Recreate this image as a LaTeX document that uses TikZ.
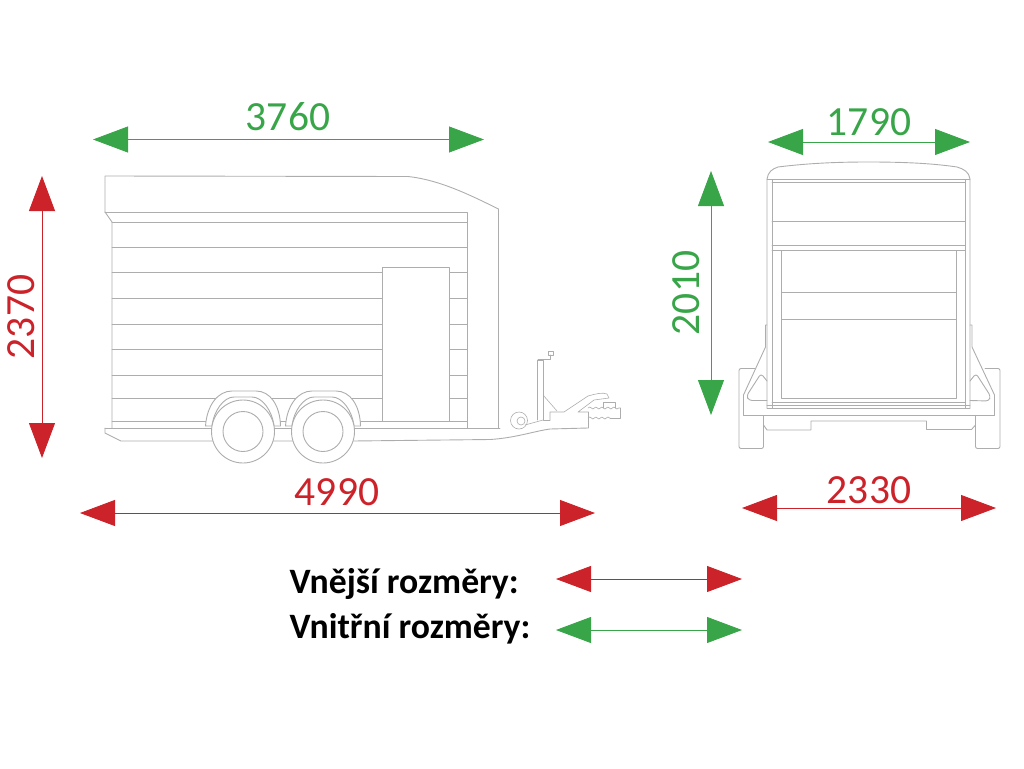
\documentclass[tikz,border=0pt]{standalone}
\usepackage{fontspec}
\setmainfont{Carlito}
\usetikzlibrary{arrows.meta, decorations.pathmorphing}
\definecolor{dimred}{HTML}{CC2229}
\definecolor{dimgreen}{HTML}{38A548}
\definecolor{bodygray}{HTML}{ADADAD}

\begin{document}
\begin{tikzpicture}[x=1pt, y=-1pt, line cap=round, line join=round,
    >={Triangle[length=35pt, width=26pt]},
    outerdim/.style={<->, dimred, line width=0.8pt},
    innerdim/.style={<->, dimgreen, line width=0.8pt},
    bodyline/.style={bodygray, line width=0.9pt},
    redlabel/.style={dimred, font=\fontsize{41.5}{48}\selectfont},
    greenlabel/.style={dimgreen, font=\fontsize{41.5}{48}\selectfont},
    legendlabel/.style={anchor=west, font=\fontsize{35.7}{42}\selectfont\bfseries}]

  \useasboundingbox (0,0) rectangle (1024,768);

  % side view
  \draw[bodyline] (105,212) -- (105,176) -- (408,176.5)
    .. controls (440,180) and (470,195) .. (498.5,209) -- (498.5,428);
  \draw[bodyline] (105,212) -- (112,222) -- (112,428);
  \draw[bodyline] (105,212) -- (467,212) -- (467,428);
  \foreach \y in {222,247.5,398,421}
    \draw[bodyline] (112,\y) -- (467,\y);
  \foreach \y in {272.5,298,324,349.5,375}
    \draw[bodyline] (112,\y) -- (382,\y) (449,\y) -- (467,\y);
  \draw[bodyline, fill=white] (382.5,267) rectangle (449,421);

  % chassis
  \draw[bodyline] (105,428) -- (500,428);
  \draw[bodyline] (105,428) -- (105,433) -- (121,441) -- (353,441) -- (490,439.5)
    .. controls (515,438) and (535,431) .. (550,429) -- (588,428);

  % axles
  \foreach \x in {0,80} {
    \draw[bodyline, fill=white] (205.5+\x,426) .. controls (207+\x,405) and (218+\x,391) .. (232+\x,391)
      -- (256+\x,391) .. controls (270+\x,391) and (280+\x,405) .. (280.5+\x,426)
      -- (212+\x,426) -- cycle;
    \draw[bodyline] (212+\x,426) .. controls (214+\x,410) and (224+\x,397) .. (234+\x,397)
      -- (252+\x,397) .. controls (262+\x,397) and (272+\x,410) .. (274+\x,426);
    \draw[bodyline, fill=white] (243+\x,431.5) circle (31.5);
    \draw[bodyline] (243+\x,431.5) circle (20);
  }

  % drawbar
  \begin{scope}[bodyline, line width=0.6pt]
    \draw[fill=white] (519,420.5) circle (8.5);
    \draw (521,421) circle (4);
    \draw (537,420) -- (537,360) -- (543,360) -- (543,420) -- (550,420);
    \draw (525,425) -- (543,420);
    \draw (538,359) -- (550,359) -- (550,355) (548,351) rectangle (553,355);
    \draw (543,395) -- (557,411);
    \draw (550,420) -- (550,412) -- (564,412) -- (588,396) .. controls (595,394) and (603,392) .. (607,394)
      -- (609,398) -- (594,400) -- (578,412) -- (588,412);
    \draw (588,412) -- (588,428);
    \draw (603,408) -- (603,402) -- (615,402) -- (615,408);
    \draw[decorate, decoration={snake, amplitude=1pt, segment length=6pt}] (588,408) -- (620,408);
    \draw[decorate, decoration={snake, amplitude=1pt, segment length=6pt}] (588,418) -- (610,418);
    \draw (610,418) -- (620,418) -- (620,408);
  \end{scope}

  % rear view
  \draw[bodyline] (767,408) -- (767,179) .. controls (768,172) and (772,169) .. (778,167)
    .. controls (810,163) and (840,162) .. (868,162)
    .. controls (900,162) and (930,163) .. (957,167)
    .. controls (964,169) and (969,172) .. (970,179) -- (970,408);
  \draw[bodyline] (772,408) -- (772,179.5) (965.5,408) -- (965.5,179.5);
  \foreach \y in {182.5,221.5,245,250.5,402.5}
    \draw[bodyline] (772,\y) -- (965.5,\y);
  \foreach \y in {179.5,405,408.5}
    \draw[bodyline] (767,\y) -- (970,\y);
  \draw[bodyline] (781.5,250.5) rectangle (956.5,398);
  \foreach \y in {292,319.5}
    \draw[bodyline] (781.5,\y) -- (956.5,\y);

  % mudguards and tyres
  \draw[bodyline] (743.5,415.5) -- (994.5,415.5);
  \draw[bodyline] (743.5,415.5) -- (743.5,395) -- (765.5,347) -- (765.5,325) -- (767,325);
  \draw[bodyline] (994.5,415.5) -- (994.5,395) -- (972,347) -- (972,325) -- (970,325);
  \draw[bodyline] (763.5,415.5) -- (763.5,425) -- (767,430) -- (811,430) -- (811,421)
    -- (926.5,421) -- (926.5,429.5) -- (971.5,429.5) -- (975.5,425) -- (975.5,415.5);
  \draw[bodyline, rounded corners=2pt] (755,368.5) -- (739,368.5) -- (739,448.5) -- (763.5,448.5) -- (763.5,415.5);
  \draw[bodyline, rounded corners=2pt] (985,368.5) -- (1000,368.5) -- (1000,448.5) -- (975.5,448.5) -- (975.5,415.5);
  \draw[bodyline, rounded corners=3pt] (767,400.5) -- (749,400.5) -- (746.5,396) -- (761,373.5) -- (767,381);
  \draw[bodyline, rounded corners=3pt] (970,400.5) -- (989,401) -- (990.5,396) -- (976,373.5) -- (970,381);

  % dimensions
  \coordinate (sideinnerl) at (93,139.5);
  \coordinate (sideinnerr) at (484,139.5);
  \coordinate (rearinnerl) at (768,142);
  \coordinate (rearinnerr) at (970,142);
  \coordinate (sideheightt) at (42,176);
  \coordinate (sideheightb) at (42,458);
  \coordinate (rearheightt) at (711,171);
  \coordinate (rearheightb) at (711,415);
  \coordinate (sidelengthl) at (80,513);
  \coordinate (sidelengthr) at (595,513);
  \coordinate (rearwidthl) at (742,508);
  \coordinate (rearwidthr) at (996,508);
  \coordinate (keyouterl) at (556,579);
  \coordinate (keyouterr) at (742,579);
  \coordinate (keyinnerl) at (556,630);
  \coordinate (keyinnerr) at (742,630);

  \draw[innerdim] (sideinnerl) -- (sideinnerr);
  \draw[innerdim] (rearinnerl) -- (rearinnerr);
  \draw[innerdim] (rearheightt) -- (rearheightb);
  \draw[outerdim] (sideheightt) -- (sideheightb);
  \draw[outerdim] (sidelengthl) -- (sidelengthr);
  \draw[outerdim] (rearwidthl) -- (rearwidthr);
  \draw[outerdim] (keyouterl) -- (keyouterr);
  \draw[innerdim] (keyinnerl) -- (keyinnerr);

  \node[greenlabel] (sideinner) at (288,117) {3760};
  \node[greenlabel] (rearinner) at (869,122) {1790};
  \node[greenlabel, rotate=90] (rearheight) at (686,293) {2010};
  \node[redlabel, rotate=90] (sideheight) at (21,317) {2370};
  \node[redlabel] (sidelength) at (337,492) {4990};
  \node[redlabel] (rearwidth) at (869,490) {2330};
  \node[legendlabel] (keyouter) at (286,584) {Vnější rozměry:};
  \node[legendlabel] (keyinner) at (286,629) {Vnitřní rozměry:};
\end{tikzpicture}
\end{document}
